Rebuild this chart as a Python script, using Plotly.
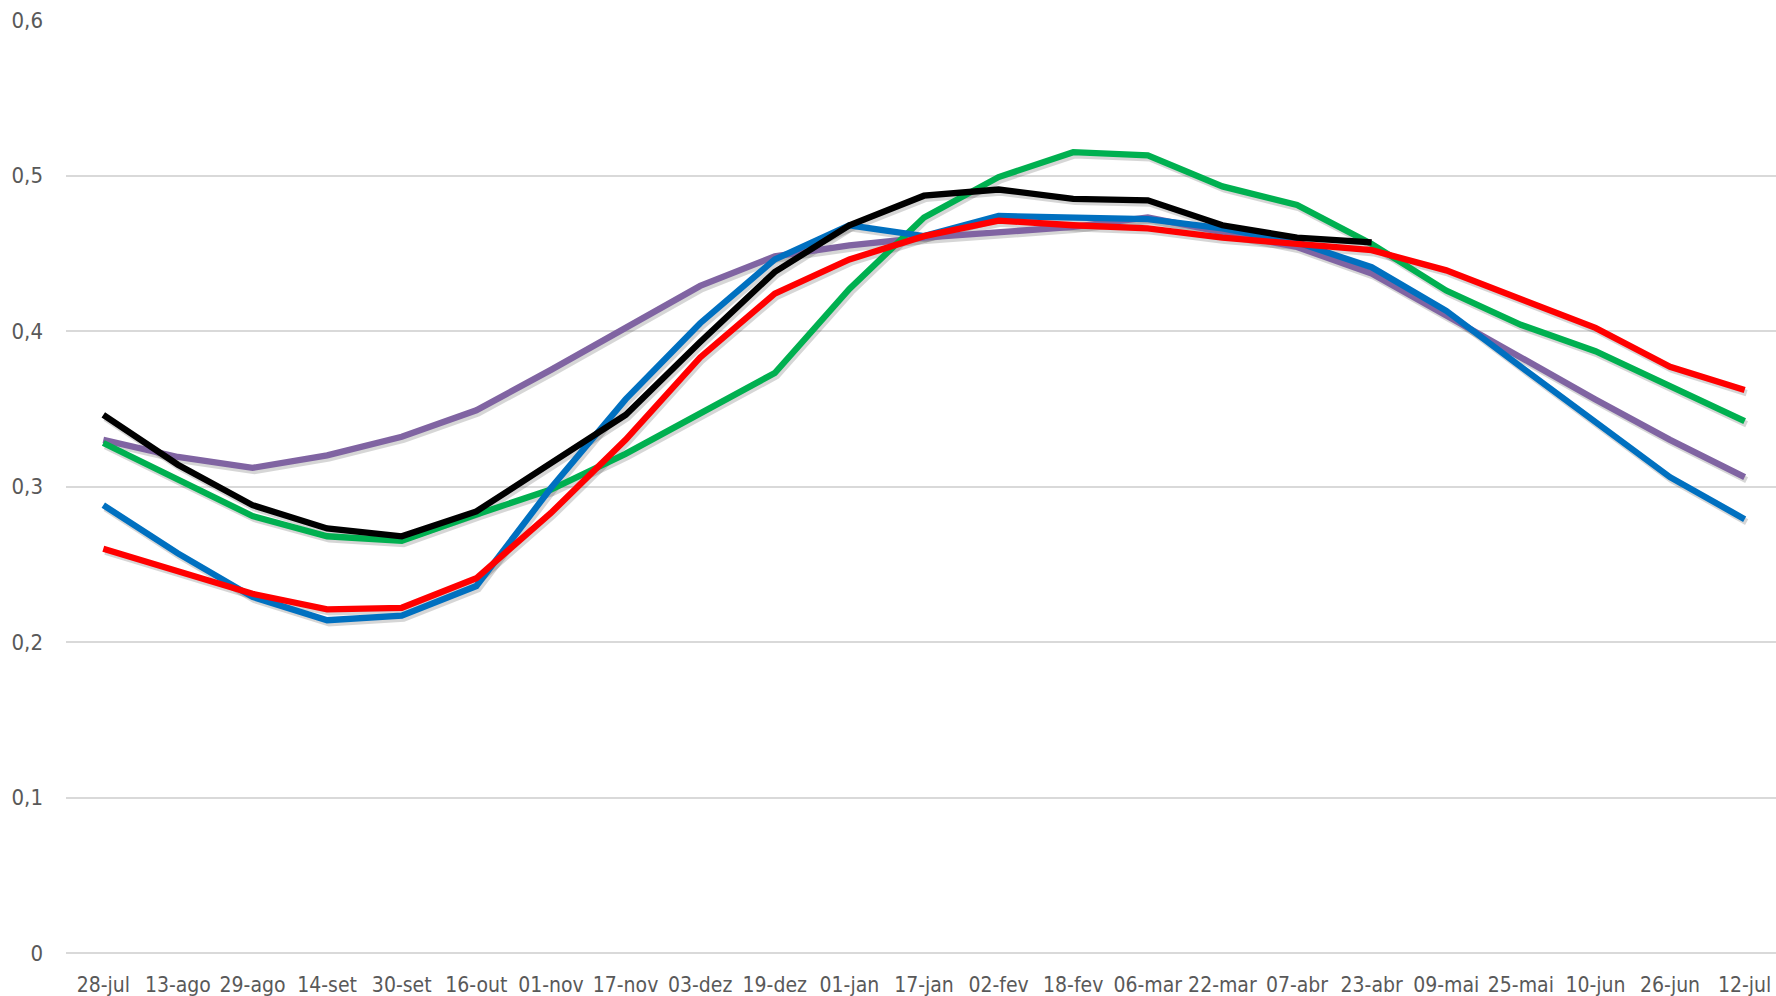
import plotly.graph_objects as go

# Period labels (category axis)
periods = ["28-jul", "13-ago", "29-ago", "14-set", "30-set", "16-out", "01-nov", "17-nov",
           "03-dez", "19-dez", "01-jan", "17-jan", "02-fev", "18-fev", "06-mar", "22-mar",
           "07-abr", "23-abr", "09-mai", "25-mai", "10-jun", "26-jun", "12-jul"]

purple = [0.330, 0.319, 0.312, 0.320, 0.332, 0.349, 0.375, 0.402, 0.429, 0.448, 0.455, 0.460,
          0.464, 0.467, 0.473, 0.463, 0.454, 0.437, 0.410, 0.382, 0.356, 0.330, 0.306]
green = [0.328, 0.304, 0.281, 0.268, 0.265, 0.282, 0.298, 0.321, 0.347, 0.373, 0.427, 0.473,
         0.499, 0.515, 0.513, 0.493, 0.481, 0.456, 0.426, 0.404, 0.387, 0.365, 0.342]
blue = [0.288, 0.257, 0.229, 0.214, 0.217, 0.236, 0.299, 0.356, 0.405, 0.446, 0.468, 0.461,
        0.474, 0.473, 0.472, 0.466, 0.457, 0.441, 0.413, 0.377, 0.341, 0.306, 0.279]
red = [0.260, 0.245, 0.231, 0.221, 0.222, 0.241, 0.283, 0.330, 0.383, 0.424, 0.446, 0.461,
       0.471, 0.468, 0.466, 0.460, 0.456, 0.452, 0.439, 0.421, 0.402, 0.377, 0.362]
black = [0.346, 0.314, 0.288, 0.273, 0.268, 0.284, 0.315, 0.346, 0.393, 0.438, 0.468, 0.487,
         0.491, 0.485, 0.484, 0.468, 0.460, 0.457]

y_ticks = [0, 0.1, 0.2, 0.3, 0.4, 0.5, 0.6]
y_tick_text = ["0", "0,1", "0,2", "0,3", "0,4", "0,5", "0,6"]

series = [
    ("Série 5", purple, "#8064A2"),
    ("Série 4", green, "#00B050"),
    ("Série 1", blue, "#0070C0"),
    ("Série 2", red, "#FF0000"),
    ("Série 3", black, "#000000"),
]

W, H = 1776, 996
M_L, M_R, M_T, M_B = 66, 0, 20, 43
plot_w = W - M_L - M_R
plot_h = H - M_T - M_B

x_range = [-0.5, 22.42]
y_range = [0, 0.6]

# drop-shadow offset, in pixels, converted to axis units
sh_dx, sh_dy = 2.0, 3.0
ux = (x_range[1] - x_range[0]) / plot_w
uy = (y_range[1] - y_range[0]) / plot_h

font_family = "Liberation Sans Narrow, DejaVu Sans Condensed, Arial Narrow, sans-serif"
label_color = "#595959"

fig = go.Figure()

# soft shadows on the hidden base axes
for name, vals, color in series:
    fig.add_trace(go.Scatter(
        x=periods[:len(vals)], y=vals, mode="lines", name=name + " sombra",
        line=dict(color="rgba(0,0,0,0.16)", width=6.5), hoverinfo="skip",
        xaxis="x", yaxis="y", showlegend=False,
    ))

# the series themselves on the visible overlay axes
for name, vals, color in series:
    fig.add_trace(go.Scatter(
        x=periods[:len(vals)], y=vals, mode="lines", name=name,
        line=dict(color=color, width=6.3),
        xaxis="x2", yaxis="y2", showlegend=False,
    ))

fig.update_layout(
    width=W, height=H,
    margin=dict(l=M_L, r=M_R, t=M_T, b=M_B, pad=0),
    paper_bgcolor="white", plot_bgcolor="white",
    showlegend=False,
    xaxis=dict(type="category", categoryarray=periods, categoryorder="array",
               range=[x_range[0] - sh_dx * ux, x_range[1] - sh_dx * ux],
               visible=False, showgrid=False, zeroline=False, automargin=False),
    yaxis=dict(range=[y_range[0] + sh_dy * uy, y_range[1] + sh_dy * uy],
               visible=False, showgrid=False, zeroline=False, automargin=False),
    xaxis2=dict(type="category", categoryarray=periods, categoryorder="array",
                overlaying="x", side="bottom", anchor="y2", automargin=False,
                range=x_range, showgrid=False, zeroline=False, showline=False,
                ticks="", ticklabelstandoff=17, tickangle=0,
                tickfont=dict(family=font_family, size=21, color=label_color)),
    yaxis2=dict(overlaying="y", side="left", anchor="x2", range=y_range, automargin=False,
                tickvals=y_ticks, ticktext=y_tick_text,
                showgrid=True, gridcolor="#D9D9D9", gridwidth=1.5,
                zeroline=True, zerolinecolor="#D9D9D9", zerolinewidth=1.5,
                showline=False, ticks="", ticklabelstandoff=22,
                tickfont=dict(family=font_family, size=22, color=label_color)),
)

fig.write_html("out.html")
